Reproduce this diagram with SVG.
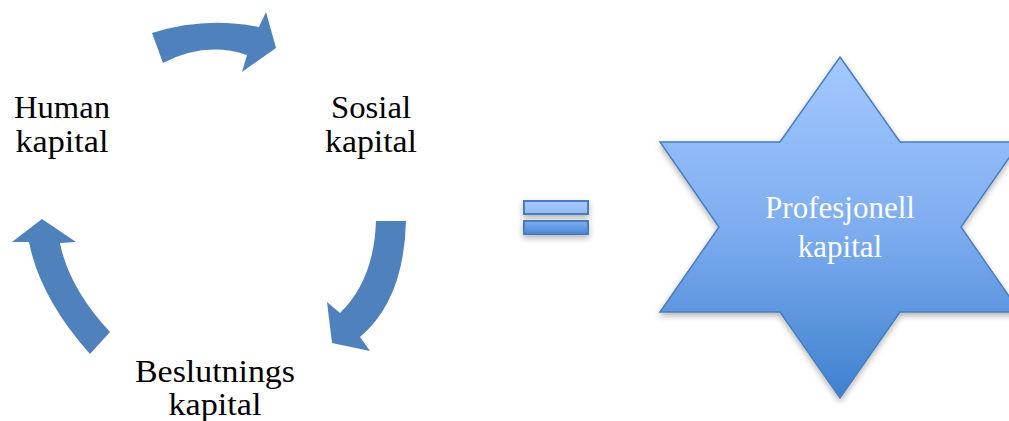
<svg xmlns="http://www.w3.org/2000/svg" width="1009" height="421" viewBox="0 0 1009 421">
  <defs>
    <linearGradient id="starGrad" x1="0" y1="0" x2="0" y2="1">
      <stop offset="0" stop-color="#A4C9FF"/>
      <stop offset="0.5" stop-color="#7EADF0"/>
      <stop offset="1" stop-color="#3F80CF"/>
    </linearGradient>
    <linearGradient id="barTop" x1="0" y1="0" x2="0" y2="1">
      <stop offset="0" stop-color="#A6CAFF"/>
      <stop offset="1" stop-color="#93BAF5"/>
    </linearGradient>
    <linearGradient id="barBot" x1="0" y1="0" x2="0" y2="1">
      <stop offset="0" stop-color="#7DAEF2"/>
      <stop offset="1" stop-color="#4B8AD9"/>
    </linearGradient>
    <filter id="shadow" x="-20%" y="-20%" width="140%" height="150%">
      <feDropShadow dx="0" dy="3" stdDeviation="3" flood-color="#000" flood-opacity="0.3"/>
    </filter>
  </defs>
  <style>
    .lbl { font-family: "Liberation Serif", "Times New Roman", serif; font-size: 31px; fill: #000; text-anchor: middle; }
    .starlbl { font-family: "Liberation Serif", "Times New Roman", serif; font-size: 31px; fill: #fff; text-anchor: middle; }
    .arrow { fill: #4F81BD; stroke: none; }
    .bar { stroke: #4A7EBB; stroke-width: 2; }
  </style>
  <rect width="1009" height="421" fill="#fff"/>

  <g id="connectors">
    <path class="arrow" d="M152,33 Q205,16 259,27 L266,12 L276,48 L242,72 L247,55 Q205,41 163,63 Z"/>
    <path class="arrow" d="M376,221 L406,221 Q404,300 360,337 L370,351 L332,343 L327,302 L340,313 Q374,280 376,221 Z"/>
    <path class="arrow" d="M42,219 L76,242 L60,243 Q69,288 110,332 L90,354 Q40,298 29,242 L12,242 Z"/>
  </g>

  <g id="human">
    <text class="lbl" x="62" y="118" textLength="96" lengthAdjust="spacingAndGlyphs">Human</text>
    <text class="lbl" x="62" y="152" textLength="93" lengthAdjust="spacingAndGlyphs">kapital</text>
  </g>
  <g id="sosial">
    <text class="lbl" x="371" y="118" textLength="80" lengthAdjust="spacingAndGlyphs">Sosial</text>
    <text class="lbl" x="371" y="152" textLength="92" lengthAdjust="spacingAndGlyphs">kapital</text>
  </g>
  <g id="beslutnings">
    <text class="lbl" x="215" y="382" textLength="160" lengthAdjust="spacingAndGlyphs">Beslutnings</text>
    <text class="lbl" x="215" y="415" textLength="93" lengthAdjust="spacingAndGlyphs">kapital</text>
  </g>

  <g id="equals" filter="url(#shadow)">
    <rect class="bar" x="524" y="201" width="64" height="13" fill="url(#barTop)"/>
    <rect class="bar" x="524" y="221" width="64" height="13" fill="url(#barBot)"/>
  </g>

  <g id="profesjonell">
    <polygon points="840,57 900,142 1020,142 961,227 1020,312 900,312 840,398 780,312 660,312 719,227 660,142 780,142" fill="url(#starGrad)" stroke="#4A7EBB" stroke-width="1.5" filter="url(#shadow)"/>
    <text class="starlbl" x="840" y="218">Profesjonell</text>
    <text class="starlbl" x="840" y="257">kapital</text>
  </g>
</svg>
